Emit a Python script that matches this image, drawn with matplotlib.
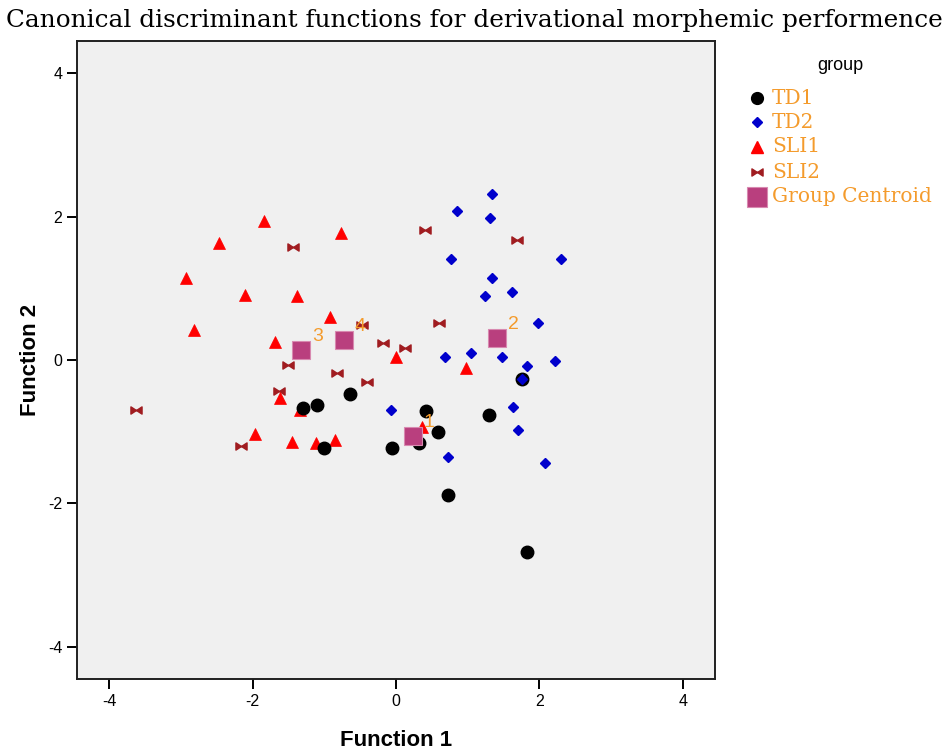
import matplotlib
matplotlib.use("Agg")
import matplotlib.pyplot as plt
from matplotlib.path import Path
from matplotlib.lines import Line2D
import numpy as np

plt.rcParams["axes.unicode_minus"] = False

# ---- data ----
td1_x = [-1.30, -1.10, -1.01, -0.64, -0.06, 0.32, 0.42, 0.59, 0.73, 1.30, 1.76, 1.82]
td1_y = [-0.67, -0.63, -1.22, -0.48, -1.23, -1.16, -0.71, -1.00, -1.88, -0.77, -0.27, -2.68]

td2_x = [1.34, 0.85, 1.31, 0.77, 2.30, 1.34, 1.62, 1.24, 1.98, 0.68,
         1.05, 1.48, 1.83, 2.21, 1.76, -0.07, 1.63, 1.70, 0.73, 2.07]
td2_y = [2.31, 2.07, 1.98, 1.41, 1.41, 1.14, 0.95, 0.89, 0.51, 0.04,
         0.10, 0.04, -0.09, -0.02, -0.27, -0.70, -0.66, -0.98, -1.35, -1.44]

sli1_x = [-1.84, -0.77, -2.46, -2.93, -2.11, -1.38, -0.92, -2.82, -1.68,
          -1.61, -1.34, -1.97, -1.45, -1.12, -0.85, 0.00, 0.98, 0.36]
sli1_y = [1.94, 1.77, 1.63, 1.14, 0.90, 0.89, 0.60, 0.42, 0.25,
          -0.53, -0.70, -1.03, -1.14, -1.16, -1.12, 0.04, -0.11, -0.94]

sli2_x = [-1.44, -0.47, -0.18, 0.13, -1.51, -0.82, -0.41, -1.63, -3.62,
          -2.16, 0.41, 1.68, 0.60]
sli2_y = [1.57, 0.49, 0.23, 0.17, -0.07, -0.18, -0.31, -0.43, -0.70,
          -1.20, 1.81, 1.67, 0.51]

centroid_x = [0.23, 1.41, -1.33, -0.73]
centroid_y = [-1.06, 0.30, 0.14, 0.28]
centroid_labels = ["1", "2", "3", "4"]

group_names = ["TD1", "TD2", "SLI1", "SLI2", "Group Centroid"]
title = "Canonical discriminant functions for derivational morphemic performence"

# ---- styling ----
orange = "#f49b2c"
cen_col = "#b93f7e"
bow = Path([(-1, -0.65), (0, 0), (-1, 0.65), (-1, -0.65),
            (1, 0.65), (0, 0), (1, -0.65), (1, 0.65)],
           [Path.MOVETO, Path.LINETO, Path.LINETO, Path.CLOSEPOLY,
            Path.MOVETO, Path.LINETO, Path.LINETO, Path.CLOSEPOLY])

fig = plt.figure(figsize=(9.46, 7.51), dpi=100)
ax = fig.add_axes([77 / 946, 1 - 679 / 751, 638 / 946, 638 / 751])
ax.set_facecolor("#f0f0f0")
lim = 4.446
ax.set_xlim(-lim, lim)
ax.set_ylim(-lim, lim)
for s in ax.spines.values():
    s.set_linewidth(1.4)
    s.set_color("#202020")

ax.set_xticks([-4, -2, 0, 2, 4])
ax.set_yticks([-4, -2, 0, 2, 4])
ax.tick_params(direction="out", length=7.5, width=1.4, labelsize=11.5, pad=3)
for lab in ax.get_xticklabels() + ax.get_yticklabels():
    lab.set_fontfamily("Liberation Sans")

ax.set_xlabel("Function 1", fontsize=16, fontweight="bold", family="Liberation Sans")
ax.set_ylabel("Function 2", fontsize=16, fontweight="bold", family="Liberation Sans")
ax.xaxis.set_label_coords(0.5, (679 - 740) / 638)
ax.xaxis.label.set_va("center")
ax.yaxis.set_label_coords((31 - 77) / 638, 0.5)
ax.yaxis.label.set_va("center")

ms = dict(linestyle="none")
ax.plot(sli2_x, sli2_y, marker=bow, markersize=8, color="#a01c20", mec="#a01c20", **ms, zorder=3)
ax.plot(sli1_x, sli1_y, marker="^", markersize=9, color="#ff0000", mec="#ff0000", mew=0.5, **ms, zorder=3)
ax.plot(td1_x, td1_y, marker="o", markersize=9, color="black", **ms, zorder=3)
ax.plot(td2_x, td2_y, marker="D", markersize=5.6, color="#0000cc", mec="#0000cc", **ms, zorder=4)
ax.plot(centroid_x, centroid_y, marker="s", markersize=13, color=cen_col, mec="#d889b0", mew=0.8, **ms, zorder=5)
for cx, cy, cl in zip(centroid_x, centroid_y, centroid_labels):
    ax.annotate(cl, (cx, cy), xytext=(12, 10), textcoords="offset points",
                color=orange, fontsize=14, family="Liberation Sans",
                ha="center", va="center", zorder=6)

fig.text(474 / 946, 1 - 20 / 751, title, ha="center", va="center",
         fontsize=17.8, family="DejaVu Serif")

# ---- legend ----
fig.text(840 / 946, 1 - 65 / 751, "group", ha="center", va="center",
         fontsize=13, family="Liberation Sans")
leg_y = [98, 122, 147, 172, 197]
handles = [dict(marker="o", markersize=8.5, color="black"),
           dict(marker="D", markersize=5.6, color="#0000cc"),
           dict(marker="^", markersize=9, color="#ff0000"),
           dict(marker=bow, markersize=8, color="#a01c20"),
           dict(marker="s", markersize=14, color=cen_col, mec="#d889b0", mew=0.8)]
for y, name, h in zip(leg_y, group_names, handles):
    fig.add_artist(Line2D([757 / 946], [1 - y / 751], transform=fig.transFigure,
                          linestyle="none", **h))
    fig.text(772 / 946, 1 - y / 751, name, ha="left", va="center",
             fontsize=14.5, family="DejaVu Serif", color=orange)

fig.savefig("out.png", dpi=100)
